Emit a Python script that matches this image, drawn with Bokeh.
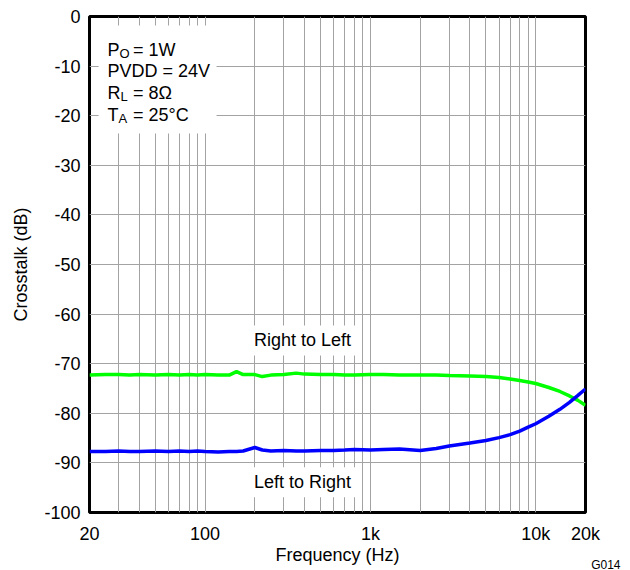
from bokeh.plotting import figure
from bokeh.models import FixedTicker, Label, BoxAnnotation, Range1d, Title
from bokeh.embed import file_html
from bokeh.resources import INLINE

# ---- data ----
freq_hz = [20, 25, 30, 35, 40, 50, 60, 70, 80, 90, 100, 120, 140, 155, 170,
           200, 222, 250, 300, 356, 400, 500, 600, 700, 800, 1000, 1200, 1500,
           2000, 2500, 3000, 4000, 5000, 6000, 7000, 8000, 9000, 10000, 12000,
           14000, 16000, 18000, 20000]
right_to_left_db = [-72.3, -72.2, -72.2, -72.3, -72.2, -72.3, -72.2, -72.3, -72.2,
                    -72.3, -72.2, -72.3, -72.3, -71.6, -72.2, -72.2, -72.6, -72.3,
                    -72.2, -71.9, -72.1, -72.2, -72.2, -72.3, -72.3, -72.2, -72.2,
                    -72.3, -72.3, -72.3, -72.4, -72.5, -72.6, -72.8, -73.1, -73.4,
                    -73.7, -74.0, -74.8, -75.6, -76.5, -77.4, -78.4]
left_to_right_db = [-87.7, -87.7, -87.6, -87.7, -87.7, -87.6, -87.7, -87.6, -87.7,
                    -87.6, -87.7, -87.8, -87.7, -87.7, -87.6, -86.9, -87.4, -87.6,
                    -87.5, -87.6, -87.6, -87.5, -87.5, -87.4, -87.3, -87.4, -87.3,
                    -87.2, -87.5, -87.1, -86.6, -86.0, -85.5, -84.9, -84.3, -83.6,
                    -82.8, -82.1, -80.6, -79.2, -77.8, -76.4, -75.1]

x_major_ticks = [20, 100, 1000, 10000, 20000]
x_major_labels = ["20", "100", "1k", "10k", "20k"]
x_grid_ticks = [20, 30, 40, 50, 60, 70, 80, 90, 100, 200, 300, 400, 500, 600, 700,
                800, 900, 1000, 2000, 3000, 4000, 5000, 6000, 7000, 8000, 9000,
                10000, 20000]
y_ticks = [-100, -90, -80, -70, -60, -50, -40, -30, -20, -10, 0]
y_labels = ["-100", "-90", "-80", "-70", "-60", "-50", "-40", "-30", "-20", "-10", "0"]

cond_main = ["P", "PVDD = 24V", "R", "T"]
cond_sub = ["O", "", "L", "A"]
cond_rest = ["= 1W", "", "= 8\u03a9", "= 25\u00b0C"]

FONT = "Liberation Sans"
FS = "18px"

p = figure(x_axis_type="log", x_range=Range1d(20, 20000), y_range=Range1d(-100, 0),
           frame_width=496, frame_height=496,
           min_border_left=89, min_border_right=45, min_border_top=16, min_border_bottom=58,
           output_backend="svg", toolbar_location=None,
           background_fill_color="white", border_fill_color="white")

p.outline_line_color = "black"
p.outline_line_width = 3

# grids
p.xgrid.ticker = FixedTicker(ticks=x_grid_ticks)
p.ygrid.ticker = FixedTicker(ticks=y_ticks)
for g in (p.xgrid, p.ygrid):
    g.grid_line_color = "#a3a3a3"
    g.grid_line_width = 1

# axes
p.xaxis.ticker = FixedTicker(ticks=x_major_ticks)
p.xaxis.major_label_overrides = {t: l for t, l in zip(x_major_ticks, x_major_labels)}
p.yaxis.ticker = FixedTicker(ticks=y_ticks)
p.yaxis.major_label_overrides = {t: l for t, l in zip(y_ticks, y_labels)}
p.xaxis.axis_label = "Frequency (Hz)"
p.yaxis.axis_label = "Crosstalk (dB)"
for ax in (p.xaxis, p.yaxis):
    ax.axis_line_color = None
    ax.major_tick_line_color = None
    ax.minor_tick_line_color = None
    ax.major_tick_out = 0
    ax.major_label_text_font = FONT
    ax.major_label_text_font_size = FS
    ax.major_label_text_color = "black"
    ax.axis_label_text_font = FONT
    ax.axis_label_text_font_size = FS
    ax.axis_label_text_font_style = "normal"
    ax.axis_label_text_color = "black"
p.xaxis.major_label_standoff = 11
p.xaxis.axis_label_standoff = -2
p.yaxis.major_label_standoff = 9
p.yaxis.axis_label_standoff = 10

# curves
p.line(freq_hz, right_to_left_db, line_color="#00ff00", line_width=3.5)
p.line(freq_hz, left_to_right_db, line_color="#0000ff", line_width=3.5)

# conditions box (white background interrupting the grid)
p.add_layout(BoxAnnotation(left=22.7, right=117.3, top=-1.8, bottom=-23.6,
                           fill_color="white", fill_alpha=1.0, line_color=None))
cond_x = 25.7
cond_y = [-6.7, -11.05, -15.4, -19.8]
main_adv = [12, 0, 13, 11]
for m, s, r, y, adv in zip(cond_main, cond_sub, cond_rest, cond_y, main_adv):
    p.add_layout(Label(x=cond_x, y=y, text=m, text_font=FONT, text_font_size=FS,
                       text_baseline="alphabetic", text_align="left", text_color="black"))
    if s:
        p.add_layout(Label(x=cond_x, y=y - 0.8, x_offset=adv, text=s, text_font=FONT,
                           text_font_size="13px", text_baseline="alphabetic",
                           text_align="left", text_color="black"))
    if r:
        p.add_layout(Label(x=cond_x, y=y, x_offset=25.5, text=r, text_font=FONT,
                           text_font_size=FS, text_baseline="alphabetic",
                           text_align="left", text_color="black"))

# curve names
p.add_layout(Label(x=388.6, y=-65.3, text="Right to Left", text_font=FONT,
                   text_font_size=FS, text_align="center", text_baseline="middle",
                   text_color="black", background_fill_color="white", padding=5))
p.add_layout(Label(x=388.6, y=-93.9, text="Left to Right", text_font=FONT,
                   text_font_size=FS, text_align="center", text_baseline="middle",
                   text_color="black", background_fill_color="white", padding=5))

# figure id below the plot, at the right
p.add_layout(Title(text="G014", align="right", vertical_align="top", offset=-35,
                   standoff=-20, text_font=FONT, text_font_size="12px",
                   text_font_style="normal", text_color="black"), "below")

open("out.html", "w").write(file_html(p, INLINE))
